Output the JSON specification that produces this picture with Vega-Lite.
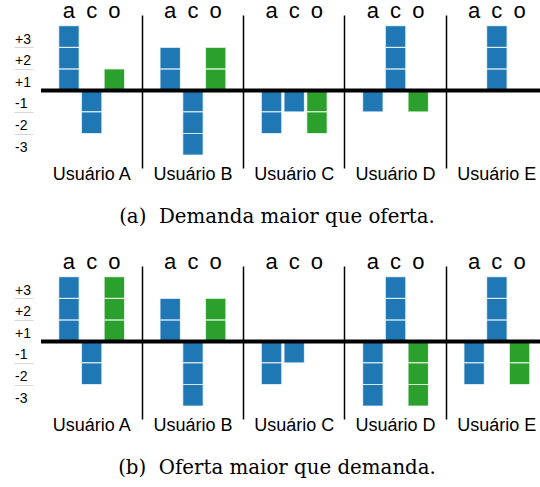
{
  "$schema": "https://vega.github.io/schema/vega-lite/v6.json",
  "padding": {"left": 13, "top": 0, "right": 0, "bottom": 0},
  "background": "white",
  "config": {"view": {"stroke": null}, "font": "Liberation Sans", "axis": {"labelOverlap": false}},
  "datasets": {
    "units": [
      {"p": "a", "u": "Usuário A", "c": "a", "v": 1},
      {"p": "a", "u": "Usuário A", "c": "a", "v": 1},
      {"p": "a", "u": "Usuário A", "c": "a", "v": 1},
      {"p": "a", "u": "Usuário A", "c": "c", "v": -1},
      {"p": "a", "u": "Usuário A", "c": "c", "v": -1},
      {"p": "a", "u": "Usuário A", "c": "o", "v": 1},
      {"p": "a", "u": "Usuário B", "c": "a", "v": 1},
      {"p": "a", "u": "Usuário B", "c": "a", "v": 1},
      {"p": "a", "u": "Usuário B", "c": "c", "v": -1},
      {"p": "a", "u": "Usuário B", "c": "c", "v": -1},
      {"p": "a", "u": "Usuário B", "c": "c", "v": -1},
      {"p": "a", "u": "Usuário B", "c": "o", "v": 1},
      {"p": "a", "u": "Usuário B", "c": "o", "v": 1},
      {"p": "a", "u": "Usuário C", "c": "a", "v": -1},
      {"p": "a", "u": "Usuário C", "c": "a", "v": -1},
      {"p": "a", "u": "Usuário C", "c": "c", "v": -1},
      {"p": "a", "u": "Usuário C", "c": "o", "v": -1},
      {"p": "a", "u": "Usuário C", "c": "o", "v": -1},
      {"p": "a", "u": "Usuário D", "c": "a", "v": -1},
      {"p": "a", "u": "Usuário D", "c": "c", "v": 1},
      {"p": "a", "u": "Usuário D", "c": "c", "v": 1},
      {"p": "a", "u": "Usuário D", "c": "c", "v": 1},
      {"p": "a", "u": "Usuário D", "c": "o", "v": -1},
      {"p": "a", "u": "Usuário E", "c": "c", "v": 1},
      {"p": "a", "u": "Usuário E", "c": "c", "v": 1},
      {"p": "a", "u": "Usuário E", "c": "c", "v": 1},
      {"p": "b", "u": "Usuário A", "c": "a", "v": 1},
      {"p": "b", "u": "Usuário A", "c": "a", "v": 1},
      {"p": "b", "u": "Usuário A", "c": "a", "v": 1},
      {"p": "b", "u": "Usuário A", "c": "c", "v": -1},
      {"p": "b", "u": "Usuário A", "c": "c", "v": -1},
      {"p": "b", "u": "Usuário A", "c": "o", "v": 1},
      {"p": "b", "u": "Usuário A", "c": "o", "v": 1},
      {"p": "b", "u": "Usuário A", "c": "o", "v": 1},
      {"p": "b", "u": "Usuário B", "c": "a", "v": 1},
      {"p": "b", "u": "Usuário B", "c": "a", "v": 1},
      {"p": "b", "u": "Usuário B", "c": "c", "v": -1},
      {"p": "b", "u": "Usuário B", "c": "c", "v": -1},
      {"p": "b", "u": "Usuário B", "c": "c", "v": -1},
      {"p": "b", "u": "Usuário B", "c": "o", "v": 1},
      {"p": "b", "u": "Usuário B", "c": "o", "v": 1},
      {"p": "b", "u": "Usuário C", "c": "a", "v": -1},
      {"p": "b", "u": "Usuário C", "c": "a", "v": -1},
      {"p": "b", "u": "Usuário C", "c": "c", "v": -1},
      {"p": "b", "u": "Usuário D", "c": "a", "v": -1},
      {"p": "b", "u": "Usuário D", "c": "a", "v": -1},
      {"p": "b", "u": "Usuário D", "c": "a", "v": -1},
      {"p": "b", "u": "Usuário D", "c": "c", "v": 1},
      {"p": "b", "u": "Usuário D", "c": "c", "v": 1},
      {"p": "b", "u": "Usuário D", "c": "c", "v": 1},
      {"p": "b", "u": "Usuário D", "c": "o", "v": -1},
      {"p": "b", "u": "Usuário D", "c": "o", "v": -1},
      {"p": "b", "u": "Usuário D", "c": "o", "v": -1},
      {"p": "b", "u": "Usuário E", "c": "a", "v": -1},
      {"p": "b", "u": "Usuário E", "c": "a", "v": -1},
      {"p": "b", "u": "Usuário E", "c": "c", "v": 1},
      {"p": "b", "u": "Usuário E", "c": "c", "v": 1},
      {"p": "b", "u": "Usuário E", "c": "c", "v": 1},
      {"p": "b", "u": "Usuário E", "c": "o", "v": -1},
      {"p": "b", "u": "Usuário E", "c": "o", "v": -1}
    ],
    "heads": [
      {"u": "Usuário A", "c": "a"}, {"u": "Usuário A", "c": "c"}, {"u": "Usuário A", "c": "o"},
      {"u": "Usuário B", "c": "a"}, {"u": "Usuário B", "c": "c"}, {"u": "Usuário B", "c": "o"},
      {"u": "Usuário C", "c": "a"}, {"u": "Usuário C", "c": "c"}, {"u": "Usuário C", "c": "o"},
      {"u": "Usuário D", "c": "a"}, {"u": "Usuário D", "c": "c"}, {"u": "Usuário D", "c": "o"},
      {"u": "Usuário E", "c": "a"}, {"u": "Usuário E", "c": "c"}, {"u": "Usuário E", "c": "o"}
    ]
  },
  "spacing": 24,
  "vconcat": [
    {
      "width": 500,
      "height": 153,
      "title": {"text": "(a)\u00a0 Demanda maior que oferta.", "orient": "bottom", "anchor": "middle", "font": "DejaVu Serif", "fontSize": 19.8, "fontWeight": "normal", "color": "black", "dx": -14, "offset": 24},
      "layer": [
        {
          "data": {"name": "units"},
          "transform": [{"filter": "datum.p == 'a'"}],
          "mark": {"type": "bar", "stroke": "white", "strokeWidth": 1.2, "strokeOpacity": 0.7},
          "encoding": {
            "x": {"field": "u", "type": "nominal", "scale": {"range": [0, 506.5], "paddingInner": 0, "paddingOuter": 0},
                  "axis": {"orient": "bottom", "title": null, "labelAngle": 0, "labelFontSize": 18, "labelColor": "black", "domain": false, "ticks": false, "labelPadding": -3, "labelFont": "Liberation Sans"}},
            "xOffset": {"field": "c", "type": "nominal", "scale": {"paddingInner": 0.1, "paddingOuter": 0.78}},
            "y": {"field": "v", "type": "quantitative", "stack": "zero", "scale": {"domain": [-3.6, 3.5], "nice": false, "zero": false},
                  "axis": {"orient": "left", "values": [-2.5, -1.5, -0.5, 0.5, 1.5, 2.5], "labelExpr": "datum.value > 0 ? '+' + (datum.value + 0.5) : '' + (datum.value - 0.5)", "title": null, "domain": false, "grid": false, "offset": 8, "tickSize": 19, "tickOffset": 10.76, "labelOffset": -8, "tickWidth": 1, "tickColor": {"condition": {"test": "datum.value == 0.5 || datum.value == -2.5", "value": "transparent"}, "value": "#d8d8d8"}, "labelAlign": "left", "labelPadding": -0.5, "labelFontSize": 14, "labelColor": "black", "labelBaseline": "middle", "labelOverlap": false, "labelFont": "Liberation Sans"}},
            "color": {"field": "c", "type": "nominal", "scale": {"domain": ["a", "c", "o"], "range": ["#1f77b4", "#1f77b4", "#2ca02c"]}, "legend": null}
          }
        },
        {
          "data": {"values": [{}]},
          "mark": {"type": "rule", "strokeWidth": 4, "color": "black"},
          "encoding": {"y": {"datum": 0, "axis": null}}
        },
        {
          "data": {"name": "heads"},
          "mark": {"type": "text", "fontSize": 22, "baseline": "alphabetic", "dy": 3.3, "font": "Liberation Sans", "color": "black"},
          "encoding": {
            "x": {"field": "u", "type": "nominal", "axis": {"orient": "top", "title": null, "labels": false, "ticks": false, "domain": false, "grid": true, "bandPosition": 0, "gridWidth": 1.5, "gridColor": {"condition": {"test": "datum.value == 'Usuário A'", "value": "transparent"}, "value": "black"}}},
            "xOffset": {"field": "c", "type": "nominal"},
            "y": {"datum": 3.5, "axis": null},
            "text": {"field": "c"}
          }
        }
      ],
      "resolve": {"axis": {"x": "independent", "y": "independent"}}
    },
    {
      "width": 500,
      "height": 153,
      "title": {"text": "(b)\u00a0 Oferta maior que demanda.", "orient": "bottom", "anchor": "middle", "font": "DejaVu Serif", "fontSize": 19.8, "fontWeight": "normal", "color": "black", "dx": -14, "offset": 24},
      "layer": [
        {
          "data": {"name": "units"},
          "transform": [{"filter": "datum.p == 'b'"}],
          "mark": {"type": "bar", "stroke": "white", "strokeWidth": 1.2, "strokeOpacity": 0.7},
          "encoding": {
            "x": {"field": "u", "type": "nominal", "scale": {"range": [0, 506.5], "paddingInner": 0, "paddingOuter": 0},
                  "axis": {"orient": "bottom", "title": null, "labelAngle": 0, "labelFontSize": 18, "labelColor": "black", "domain": false, "ticks": false, "labelPadding": -3, "labelFont": "Liberation Sans"}},
            "xOffset": {"field": "c", "type": "nominal", "scale": {"paddingInner": 0.1, "paddingOuter": 0.78}},
            "y": {"field": "v", "type": "quantitative", "stack": "zero", "scale": {"domain": [-3.6, 3.5], "nice": false, "zero": false},
                  "axis": {"orient": "left", "values": [-2.5, -1.5, -0.5, 0.5, 1.5, 2.5], "labelExpr": "datum.value > 0 ? '+' + (datum.value + 0.5) : '' + (datum.value - 0.5)", "title": null, "domain": false, "grid": false, "offset": 8, "tickSize": 19, "tickOffset": 10.76, "labelOffset": -8, "tickWidth": 1, "tickColor": {"condition": {"test": "datum.value == 0.5 || datum.value == -2.5", "value": "transparent"}, "value": "#d8d8d8"}, "labelAlign": "left", "labelPadding": -0.5, "labelFontSize": 14, "labelColor": "black", "labelBaseline": "middle", "labelOverlap": false, "labelFont": "Liberation Sans"}},
            "color": {"field": "c", "type": "nominal", "scale": {"domain": ["a", "c", "o"], "range": ["#1f77b4", "#1f77b4", "#2ca02c"]}, "legend": null}
          }
        },
        {
          "data": {"values": [{}]},
          "mark": {"type": "rule", "strokeWidth": 4, "color": "black"},
          "encoding": {"y": {"datum": 0, "axis": null}}
        },
        {
          "data": {"name": "heads"},
          "mark": {"type": "text", "fontSize": 22, "baseline": "alphabetic", "dy": 3.3, "font": "Liberation Sans", "color": "black"},
          "encoding": {
            "x": {"field": "u", "type": "nominal", "axis": {"orient": "top", "title": null, "labels": false, "ticks": false, "domain": false, "grid": true, "bandPosition": 0, "gridWidth": 1.5, "gridColor": {"condition": {"test": "datum.value == 'Usuário A'", "value": "transparent"}, "value": "black"}}},
            "xOffset": {"field": "c", "type": "nominal"},
            "y": {"datum": 3.5, "axis": null},
            "text": {"field": "c"}
          }
        }
      ],
      "resolve": {"axis": {"x": "independent", "y": "independent"}}
    }
  ]
}
